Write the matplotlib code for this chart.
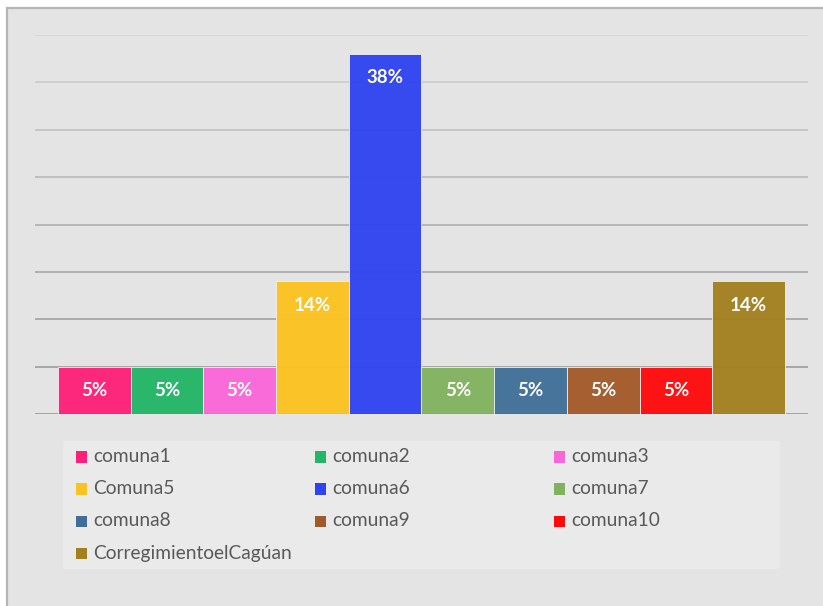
import matplotlib.pyplot as plt
from matplotlib.patches import Rectangle

# data: share of respondents per comuna (%)
names = ["comuna1", "comuna2", "comuna3", "Comuna5", "comuna6",
         "comuna7", "comuna8", "comuna9", "comuna10", "CorregimientoelCagúan"]
values = [5, 5, 5, 14, 38, 5, 5, 5, 5, 14]
colors = ["#ff1f78", "#22b666", "#f966d8", "#fbc321", "#2f44f0",
          "#80b25f", "#3f6f98", "#a35a2a", "#ff0a0a", "#a2801f"]
yticks = [0, 5, 10, 15, 20, 25, 30, 35, 40]
grid_colors = ["#a0a0a0", "#a2a2a2", "#a6a6a6", "#acacac", "#b3b3b3",
               "#bcbcbc", "#c4c4c4", "#cdcdcd", "#d6d6d6"]

W, H = 823, 606
fig = plt.figure(figsize=(W / 100, H / 100), dpi=100)
fig.patch.set_facecolor("white")


def fx(x):
    return x / W


def fy(y):
    return 1 - y / H


# chart panel (Excel style), right and bottom edges run off the picture
fig.add_artist(Rectangle((fx(7), fy(640)), fx(860), fy(8) - fy(640),
                         transform=fig.transFigure, facecolor="#e4e4e4",
                         edgecolor="#b5b5b5", lw=1.6, zorder=0))

# plot area
ax = fig.add_axes([fx(35), fy(414), fx(808) - fx(35), fy(35) - fy(414)])
ax.set_facecolor("none")
x = list(range(len(values)))
bars = ax.bar(x, values, width=1.0, color=colors, alpha=0.96,
              edgecolor="#f2f2f2", linewidth=0.6, zorder=2)
ax.set_xlim(-0.816, len(values) - 1 + 0.816)
ax.set_ylim(0, 40)
ax.set_yticks(yticks)
ax.yaxis.grid(True, linewidth=1.3, zorder=1)
for gl, c in zip(ax.get_ygridlines(), grid_colors):
    gl.set_color(c)
ax.set_axisbelow(True)
ax.tick_params(left=False, bottom=False, labelleft=False, labelbottom=False)
for s in ax.spines.values():
    s.set_visible(False)

for xi, v in zip(x, values):
    ax.annotate(f"{v}%", (xi, v), xytext=(0, -24), textcoords="offset pixels",
                ha="center", va="center", color="white", fontsize=13.5,
                fontweight="bold", family="Lato", zorder=3)

# legend box, row-major, 3 columns
fig.add_artist(Rectangle((fx(63), fy(569)), fx(780) - fx(63), fy(441) - fy(569),
                         transform=fig.transFigure, facecolor="#eaeaea",
                         edgecolor="none", zorder=1))
col_x = [76, 315, 554]
row_y = [457, 489, 521, 553]
for i, (name, c) in enumerate(zip(names, colors)):
    r, k = divmod(i, 3)
    mx, my = col_x[k], row_y[r]
    fig.add_artist(Rectangle((fx(mx), fy(my + 5.5)), fx(11), fy(0) - fy(11),
                             transform=fig.transFigure, facecolor=c,
                             edgecolor="none", zorder=2))
    fig.text(fx(mx + 17), fy(my), name, ha="left", va="center",
             fontsize=13.8, family="Lato", color="#595959")

fig.savefig("out.png", dpi=100)
